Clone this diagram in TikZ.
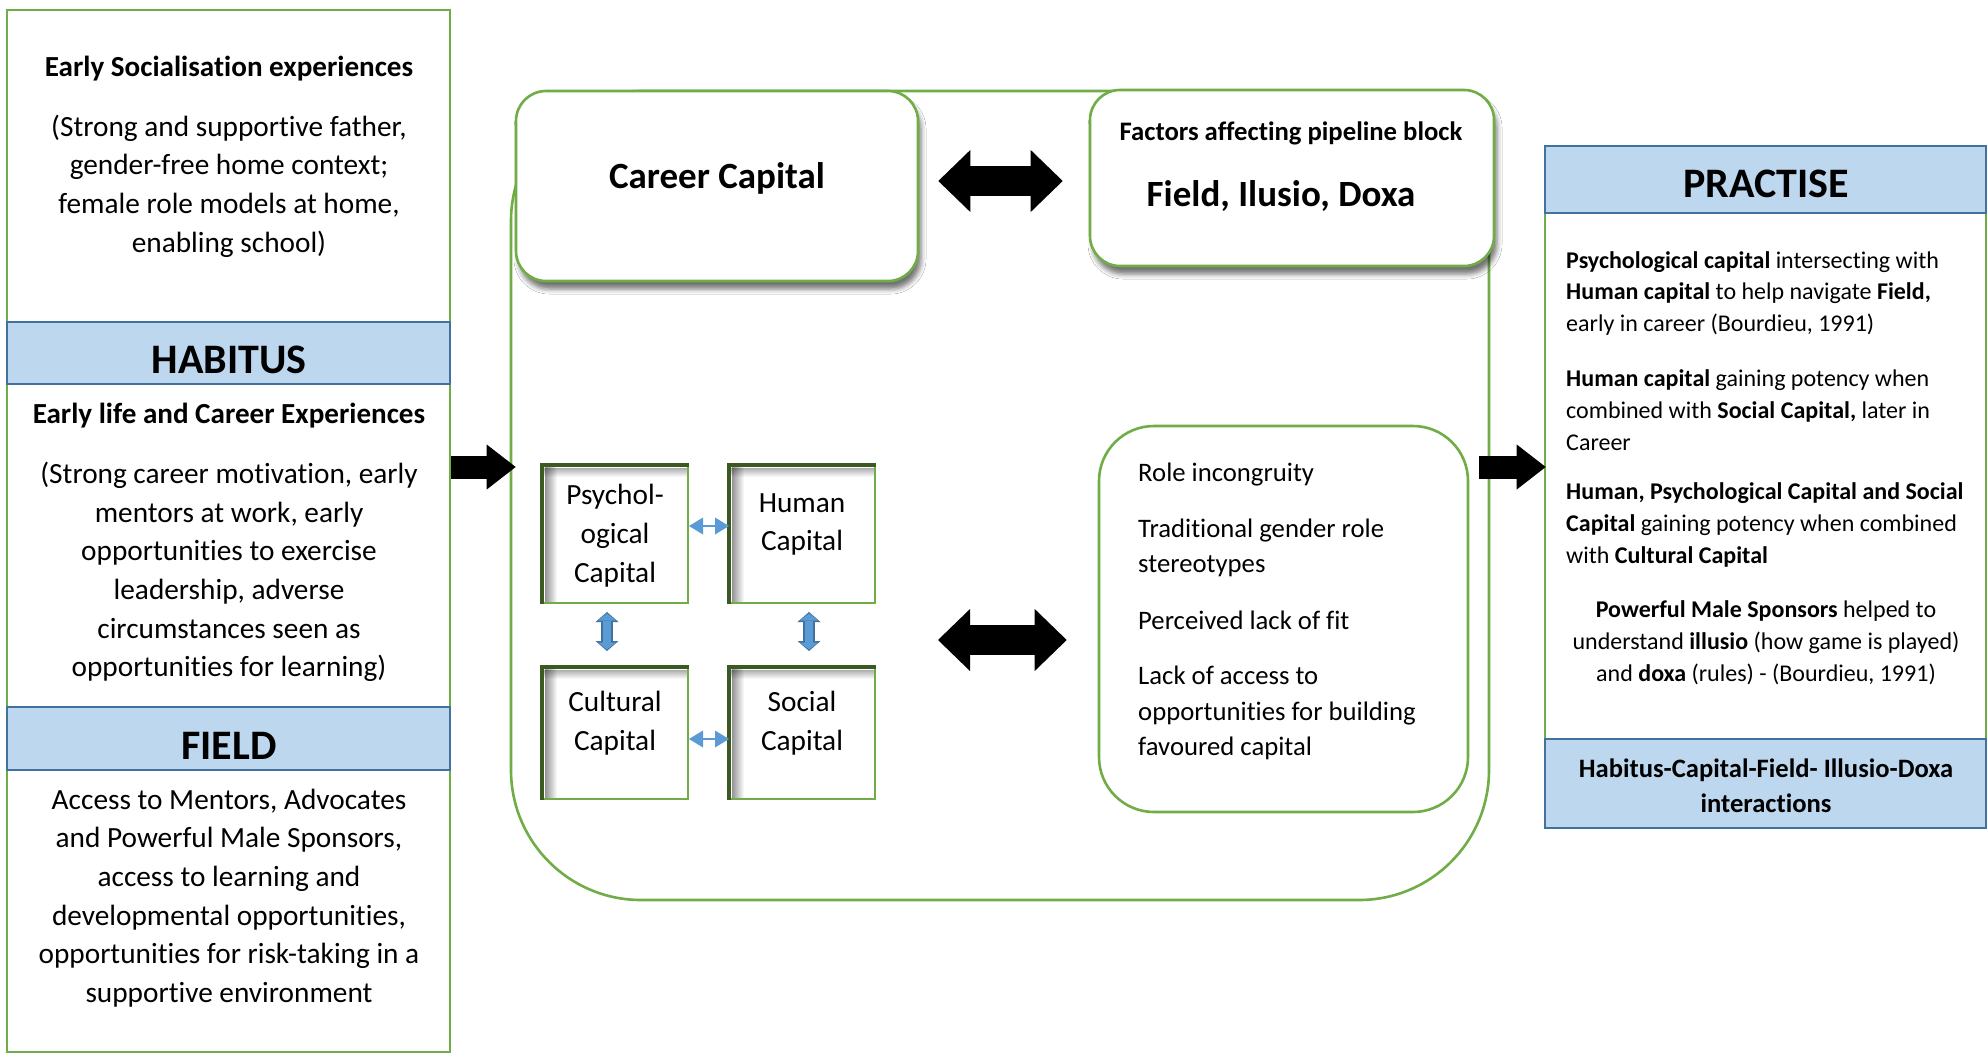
\documentclass[tikz,border=0pt]{standalone}
\usepackage{fontspec}
\setmainfont{Carlito}[Ligatures={TeX,NoCommon}]
\usetikzlibrary{arrows.meta,shadows.blur,calc}

\definecolor{boxgreen}{HTML}{70AD47}
\definecolor{edgegreen}{HTML}{3A5A22}
\definecolor{bandfill}{HTML}{BDD7EE}
\definecolor{bandline}{HTML}{41719C}
\definecolor{arrowblue}{HTML}{5B9BD5}

\tikzset{
  frame/.style={draw=boxgreen, line width=2.6pt, fill=white, inner sep=0pt},
  band/.style={draw=bandline, line width=2.4pt, fill=bandfill, inner sep=0pt},
  roundbox/.style={frame, rounded corners=30pt,
    blur shadow={shadow xshift=3pt, shadow yshift=-8pt, shadow blur radius=5pt, shadow opacity=55}},
  % square with a soft inner shadow along its top and left sides
  capbox/.style={draw=boxgreen, line width=2pt, fill=white, inner sep=0pt,
    minimum width=145pt, minimum height=#1,
    path picture={
      \foreach \k in {0,...,8} {
        \pgfmathsetmacro\op{0.32*(1-\k/9)}
        \draw[black, draw opacity=\op, line width=1.05pt]
          ([yshift=-\k pt-2.5pt]path picture bounding box.north west) --
          ([yshift=-\k pt-2.5pt]path picture bounding box.north east);
      }
      \foreach \k in {0,...,11} {
        \pgfmathsetmacro\op{0.42*(1-\k/12)}
        \draw[black, draw opacity=\op, line width=1.05pt]
          ([xshift=\k pt+2.5pt]path picture bounding box.north west) --
          ([xshift=\k pt+2.5pt]path picture bounding box.south west);
      }
    }},
  capedge/.style={draw=edgegreen, line width=3.6pt},
  txt/.style={inner sep=0pt, text=black},
  body/.style={txt, align=center, font=\fontsize{29.3pt}{38.7pt}\selectfont},
  bodyhead/.style={txt, font=\bfseries\fontsize{29.1pt}{38.7pt}\selectfont},
  bandtxt/.style={txt, font=\bfseries\fontsize{42pt}{50pt}\selectfont},
  listtxt/.style={txt, align=left, font=\fontsize{26.7pt}{35.2pt}\selectfont},
  practxt/.style={txt, font=\fontsize{24pt}{31.8pt}\selectfont},
  bigdbl/.style={line width=30pt, draw=black,
    arrows={{Triangle[length=32pt,width=62pt,line width=0pt]}-{Triangle[length=32pt,width=62pt,line width=0pt]}}},
  bigone/.style={line width=23pt, draw=black,
    arrows={-{Triangle[length=29pt,width=45pt,line width=0pt]}}},
  thinlink/.style={line width=2.2pt, draw=arrowblue,
    arrows={{Triangle[length=14pt,width=17pt,line width=0pt]}-{Triangle[length=14pt,width=17pt,line width=0pt]}}},
  blockout/.style={line width=12pt, draw=bandline,
    arrows={{Triangle[length=10pt,width=23pt,line width=0pt]}-{Triangle[length=10pt,width=23pt,line width=0pt]}}},
  blockin/.style={line width=8.5pt, draw=arrowblue,
    arrows={{Triangle[length=7pt,width=18pt,line width=0pt]}-{Triangle[length=7pt,width=18pt,line width=0pt]}}},
}

\begin{document}
\begin{tikzpicture}[x=1pt, y=-1pt]
\useasboundingbox (0,0) rectangle (1988,1057);
\fill[white] (0,0) rectangle (1988,1057);

% ---------- left column: habitus and field ----------
\node[frame, minimum width=443pt, minimum height=1042pt] (leftcol) at (228.5,531) {};
\node[band, minimum width=443pt, minimum height=62pt] (habband) at (228.5,353) {};
\node[band, minimum width=443pt, minimum height=63pt] (fieldband) at (228.5,738.5) {};

\node[bodyhead, anchor=base] (soch) at (229,77) {Early Socialisation experiences};
\node[body] (soct) at (229,186) {(Strong and supportive father,\\gender-free home context;\\female role models at home,\\enabling school)};
\node[bandtxt, anchor=base] (habt) at (229,373) {HABITUS};
\node[bodyhead, anchor=base] (earlyh) at (229,423) {Early life and Career Experiences};
\node[body] (earlyt) at (229,572) {(Strong career motivation, early\\mentors at work, early\\opportunities to exercise\\leadership, adverse\\circumstances seen as\\opportunities for learning)};
\node[bandtxt, anchor=base] (fieldt) at (229,759) {FIELD};
\node[body] (fieldbody) at (229,898) {Access to Mentors, Advocates\\and Powerful Male Sponsors,\\access to learning and\\developmental opportunities,\\opportunities for risk-taking in a\\supportive environment};

% ---------- centre: capital and pipeline block ----------
\node[frame, rounded corners=130pt, minimum width=978pt, minimum height=809pt] (bigbox) at (1000,495.5) {};
\node[roundbox, minimum width=402pt, minimum height=190pt] (cc) at (717,186) {};
\node[roundbox, minimum width=404pt, minimum height=176pt] (fac) at (1292,178) {};
\node[txt, anchor=base, font=\bfseries\fontsize{37pt}{44pt}\selectfont] (cct) at (717,188) {Career Capital};
\node[txt, anchor=base, font=\bfseries\fontsize{26.7pt}{32pt}\selectfont] (fach) at (1291,140) {Factors affecting pipeline block};
\node[txt, anchor=base, font=\bfseries\fontsize{37pt}{44pt}\selectfont] (fact) at (1281,206) {Field, Ilusio, Doxa};

\node[capbox=137pt] (psych) at (615.5,534.5) {};
\node[capbox=137pt] (human) at (802.5,534.5) {};
\node[capbox=131pt] (cult) at (615.5,733.5) {};
\node[capbox=131pt] (social) at (802.5,733.5) {};
\foreach \n in {psych,human,cult,social}
  \draw[capedge] (\n.south west) -- (\n.north west) -- (\n.north east);

\node[body] (psycht) at (615,535.5) {Psychol-\\ogical\\Capital};
\node[body] (humant) at (802,524.5) {Human\\Capital};
\node[body] (cultt) at (615,723) {Cultural\\Capital};
\node[body] (socialt) at (802,723) {Social\\Capital};

\node[frame, rounded corners=55pt, minimum width=369pt, minimum height=386pt] (barr) at (1283.5,619) {};
\node[listtxt, anchor=base west] (b1) at (1138,481) {Role incongruity};
\node[listtxt, anchor=west] (b2) at (1138,547.5) {Traditional gender role\\stereotypes};
\node[listtxt, anchor=base west] (b3) at (1138,629) {Perceived lack of fit};
\node[listtxt, anchor=west] (b4) at (1138,713) {Lack of access to\\opportunities for building\\favoured capital};

% ---------- right column: practise ----------
\node[frame, minimum width=441pt, minimum height=682pt] (prac) at (1765.5,487) {};
\node[band, minimum width=441pt, minimum height=67pt] (pracband) at (1765.5,179.5) {};
\node[band, minimum width=441pt, minimum height=89pt] (interband) at (1765.5,783.5) {};
\node[bandtxt, anchor=base] (pract) at (1766,197) {PRACTISE};
\node[practxt, align=left, anchor=west] (p1) at (1566,293.5) {\textbf{Psychological capital} intersecting with\\\textbf{Human capital} to help navigate \textbf{Field,}\\early in career (Bourdieu, 1991)};
\node[practxt, align=left, anchor=west] (p2) at (1566,410) {\textbf{Human capital} gaining potency when\\combined with \textbf{Social Capital,} later in\\Career};
\node[practxt, align=left, anchor=west] (p3) at (1566,525) {\textbf{Human, Psychological Capital and Social}\\\textbf{Capital} gaining potency when combined\\with \textbf{Cultural Capital}};
\node[practxt, align=center] (p4) at (1766,642.5) {\textbf{Powerful Male Sponsors} helped to\\understand \textbf{illusio} (how game is played)\\and \textbf{doxa} (rules) - (Bourdieu, 1991)};
\node[txt, align=center, font=\bfseries\fontsize{26.6pt}{35pt}\selectfont] (intert) at (1766,785.5) {Habitus-Capital-Field- Illusio-Doxa\\interactions};

% ---------- connectors ----------
\draw[bigone, shorten >=-6pt] ([yshift=64pt]leftcol.east) -- ([yshift=28.5pt]bigbox.west);
\draw[bigone, shorten <=-11pt, shorten >=-2pt] ([yshift=28.5pt]bigbox.east) -- ([yshift=20pt]prac.west);
\draw[bigdbl, shorten <=19pt, shorten >=26pt] ([yshift=5pt]cc.east) -- ([yshift=-3pt]fac.west);
\coordinate (barin) at ([yshift=-21pt]barr.west);
\draw[bigdbl, shorten <=62pt, shorten >=31pt] (barin -| human.east) -- (barin);

\draw[thinlink] ([yshift=8.5pt]psych.east) -- ([yshift=8.5pt]human.west);
\draw[thinlink] ([yshift=-5.5pt]cult.east) -- ([yshift=-5.5pt]social.west);

\draw[blockout, shorten <=8pt, shorten >=16pt] ([xshift=-8.5pt]psych.south) -- ([xshift=-8.5pt]cult.north);
\draw[blockin, shorten <=9.5pt, shorten >=17.5pt] ([xshift=-8.5pt]psych.south) -- ([xshift=-8.5pt]cult.north);
\draw[blockout, shorten <=8pt, shorten >=16pt] ([xshift=6.5pt]human.south) -- ([xshift=6.5pt]social.north);
\draw[blockin, shorten <=9.5pt, shorten >=17.5pt] ([xshift=6.5pt]human.south) -- ([xshift=6.5pt]social.north);
\end{tikzpicture}
\end{document}
